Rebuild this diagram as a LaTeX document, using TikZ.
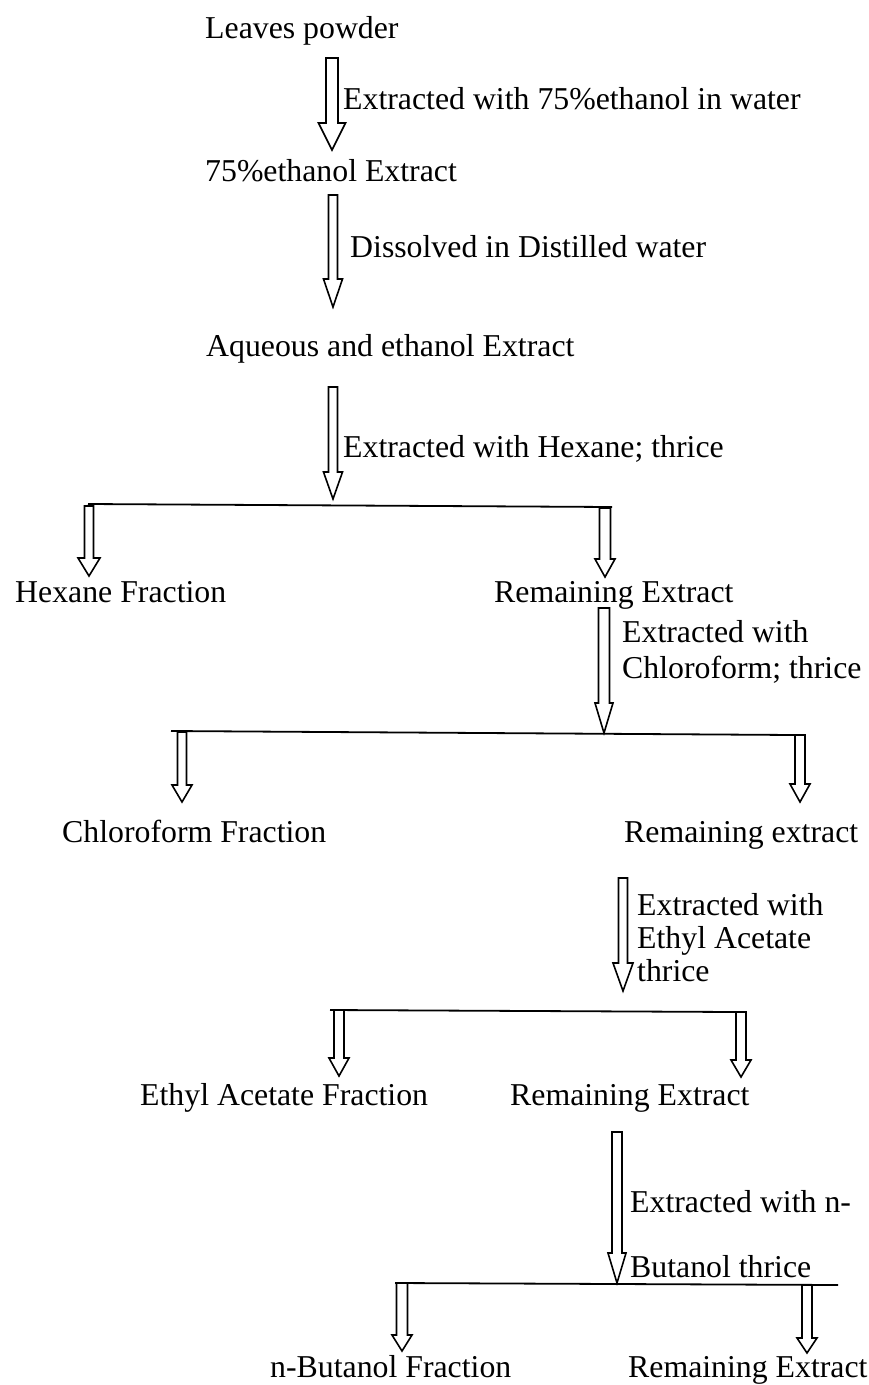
\documentclass[tikz,border=0pt]{standalone}
\usepackage{fontspec}
\setmainfont{Liberation Serif}
\usetikzlibrary{calc}
\tikzset{
  lbl/.style={anchor=base west,inner sep=0pt,font=\fontsize{31.8}{35}\selectfont},
  barline/.style={line width=1.8pt},
  blk/.style={draw,line width=1.6pt,line join=miter}
}
% block arrow: top coordinate, tip coordinate, shaft half width, head half width, head length
\newcommand\blockarrow[5]{%
  \draw[blk] let \p1=(#1),\p2=(#2) in
    (\x2-#3,\y1) -- (\x2-#3,\y2+#5) -- (\x2-#4,\y2+#5) -- (\x2,\y2)
    -- (\x2+#4,\y2+#5) -- (\x2+#3,\y2+#5) -- (\x2+#3,\y1) -- cycle;}
\begin{document}
\begin{tikzpicture}[x=1pt,y=-1pt]
\useasboundingbox (0,0) rectangle (869,1385);
% texts
\node[lbl] (leaves) at (205,38) {Leaves powder};
\node[lbl] (l1) at (343,109) {Extracted with 75\%ethanol in water};
\node[lbl] (eth) at (205,181) {75\%ethanol Extract};
\node[lbl] (l2) at (350,257) {Dissolved in Distilled water};
\node[lbl] (aq) at (206,356) {Aqueous and ethanol Extract};
\node[lbl] (l3) at (343,457) {Extracted with Hexane; thrice};
\node[lbl] (hex) at (15,602) {Hexane Fraction};
\node[lbl] (rem1) at (494,602) {Remaining Extract};
\node[lbl] (l4a) at (622,642) {Extracted with};
\node[lbl] (l4b) at (622,678) {Chloroform; thrice};
\node[lbl] (chl) at (62,842) {Chloroform Fraction};
\node[lbl] (rem2) at (624,842) {Remaining extract};
\node[lbl] (l5a) at (637,915) {Extracted with};
\node[lbl] (l5b) at (637,948) {Ethyl Acetate};
\node[lbl] (l5c) at (637,981) {thrice};
\node[lbl] (ea) at (140,1105) {Ethyl Acetate Fraction};
\node[lbl] (rem3) at (510,1105) {Remaining Extract};
\node[lbl] (l6a) at (630,1212) {Extracted with n-};
\node[lbl] (l6b) at (630,1277) {Butanol thrice};
\node[lbl] (but) at (270,1377) {n-Butanol Fraction};
\node[lbl] (rem4) at (628,1377) {Remaining Extract};
% coordinates
\coordinate (a1t) at (332,58);   \coordinate (a1b) at (332,150);
\coordinate (a2t) at (333,195);  \coordinate (a2b) at (333,307);
\coordinate (a3t) at (333,387);  \coordinate (a3b) at (333,499);
\coordinate (h1l) at (88,504);   \coordinate (h1r) at (612,507);
\coordinate (b1t) at (89,506);   \coordinate (b1b) at (89,576);
\coordinate (b2t) at (605,508);  \coordinate (b2b) at (605,577);
\coordinate (a4t) at (604,608);  \coordinate (a4b) at (604,733);
\coordinate (h2l) at (171,731);  \coordinate (h2r) at (795,735);
\coordinate (b3t) at (182,732);  \coordinate (b3b) at (182,802);
\coordinate (b4t) at (800,735);  \coordinate (b4b) at (800,802);
\coordinate (a5t) at (623,878);  \coordinate (a5b) at (623,991);
\coordinate (h3l) at (330,1010); \coordinate (h3r) at (736,1012);
\coordinate (b5t) at (339,1010); \coordinate (b5b) at (339,1076);
\coordinate (b6t) at (741,1012); \coordinate (b6b) at (741,1077);
\coordinate (a6t) at (617,1132); \coordinate (a6b) at (617,1283);
\coordinate (h4l) at (395,1283); \coordinate (h4r) at (838,1285);
\coordinate (b7t) at (402,1283); \coordinate (b7b) at (402,1351);
\coordinate (b8t) at (807,1285); \coordinate (b8b) at (807,1353);
% bars
\draw[barline] (h1l) -- (h1r);
\draw[barline] (h2l) -- (h2r);
\draw[barline] (h3l) -- (h3r);
\draw[barline] (h4l) -- (h4r);
% arrows
\blockarrow{a1t}{a1b}{6pt}{13.5pt}{27pt}
\blockarrow{a2t}{a2b}{4.5pt}{9.5pt}{28pt}
\blockarrow{a3t}{a3b}{4.5pt}{9.5pt}{27pt}
\blockarrow{b1t}{b1b}{4.5pt}{11pt}{18pt}
\blockarrow{b2t}{b2b}{5.5pt}{10pt}{18pt}
\blockarrow{a4t}{a4b}{5.5pt}{9pt}{30pt}
\blockarrow{b3t}{b3b}{4.5pt}{10pt}{17pt}
\blockarrow{b4t}{b4b}{5pt}{10pt}{18pt}
\blockarrow{a5t}{a5b}{4.5pt}{10pt}{28pt}
\blockarrow{b5t}{b5b}{5pt}{10pt}{18pt}
\blockarrow{b6t}{b6b}{5pt}{10pt}{17pt}
\blockarrow{a6t}{a6b}{5pt}{9pt}{30pt}
\blockarrow{b7t}{b7b}{5.5pt}{10pt}{16pt}
\blockarrow{b8t}{b8b}{5pt}{10pt}{15pt}
\end{tikzpicture}
\end{document}
